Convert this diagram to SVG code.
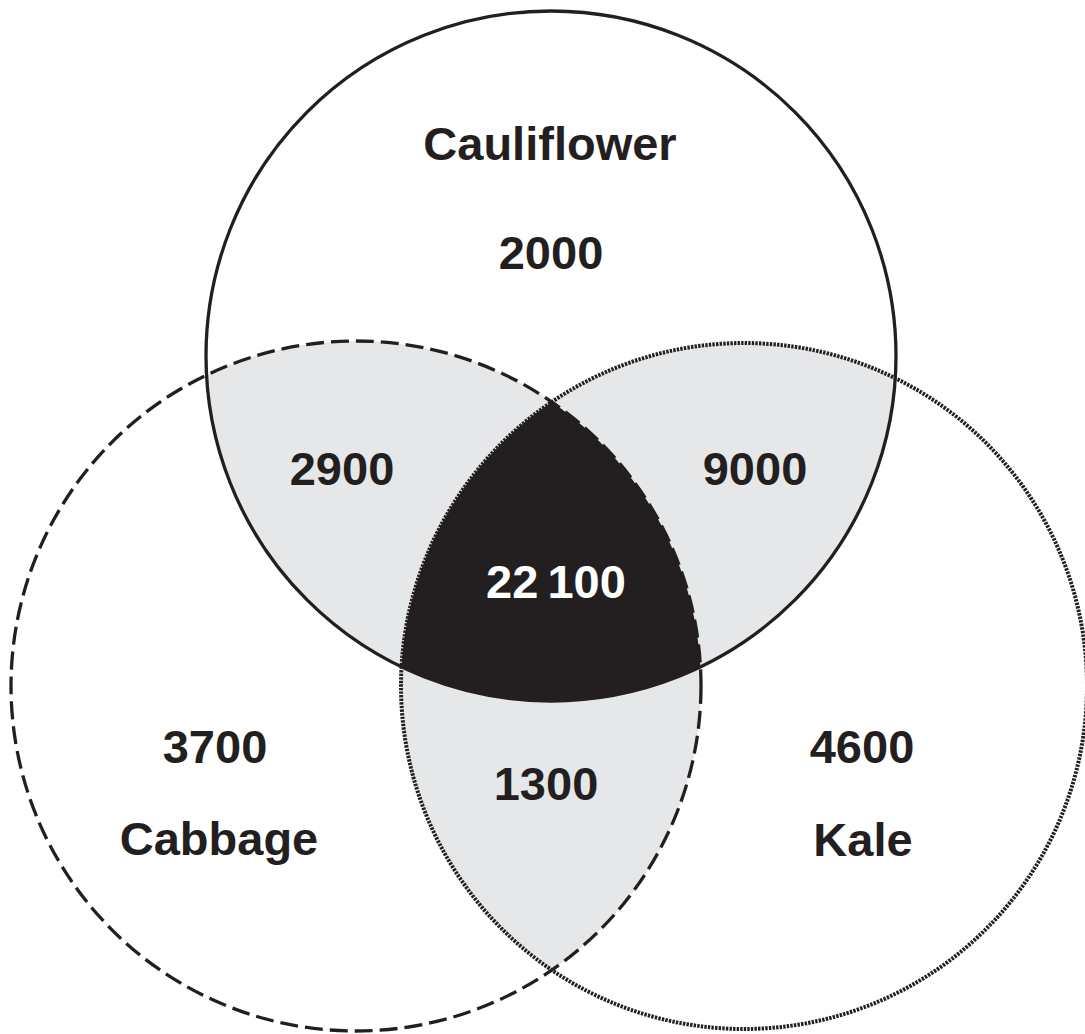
<svg xmlns="http://www.w3.org/2000/svg" width="1085" height="1034" viewBox="0 0 1085 1034">
  <style>
    .set { fill: none; stroke: #231f20; stroke-width: 3.3; }
    .dashed { stroke-dasharray: 18 7; }
    .dotted { stroke-width: 4; stroke-dasharray: 2.4 1.2; }
    .lbl { font-family: "Liberation Sans", Arial, Helvetica, sans-serif; font-weight: bold; font-size: 47px; fill: #231f20; text-anchor: middle; }
    .inv { fill: #ffffff; word-spacing: -4px; }
    .pair { fill: #e6e7e8; }
    .triple { fill: #231f20; }
  </style>
  <defs>
    <clipPath id="cTop"><circle cx="551" cy="356" r="345"/></clipPath>
    <clipPath id="cLeft"><circle cx="356" cy="686" r="345"/></clipPath>
    <clipPath id="cRight"><circle cx="744" cy="686" r="343"/></clipPath>
  </defs>
  <rect x="0" y="0" width="1085" height="1034" fill="#ffffff"/>

  <g id="regions">
    <circle class="pair" cx="551" cy="356" r="345" clip-path="url(#cLeft)"/>
    <circle class="pair" cx="551" cy="356" r="345" clip-path="url(#cRight)"/>
    <circle class="pair" cx="356" cy="686" r="345" clip-path="url(#cRight)"/>
    <g clip-path="url(#cLeft)">
      <circle class="triple" cx="551" cy="356" r="345" clip-path="url(#cRight)"/>
    </g>
  </g>

  <g id="cauliflower">
    <circle class="set" cx="551" cy="356" r="345"/>
    <text class="lbl" x="550" y="160">Cauliflower</text>
    <text class="lbl" x="551" y="269">2000</text>
  </g>
  <g id="cabbage">
    <circle class="set dashed" cx="356" cy="686" r="345"/>
    <text class="lbl" x="215" y="763">3700</text>
    <text class="lbl" x="219" y="855">Cabbage</text>
  </g>
  <g id="kale">
    <circle class="set dotted" cx="744" cy="686" r="343"/>
    <text class="lbl" x="862" y="763">4600</text>
    <text class="lbl" x="863" y="856">Kale</text>
  </g>

  <g id="intersections">
    <text class="lbl" x="342" y="485">2900</text>
    <text class="lbl" x="755" y="485">9000</text>
    <text class="lbl" x="546" y="800">1300</text>
    <text class="lbl inv" x="556" y="598">22 100</text>
  </g>

  <g id="connectors"/>
</svg>
